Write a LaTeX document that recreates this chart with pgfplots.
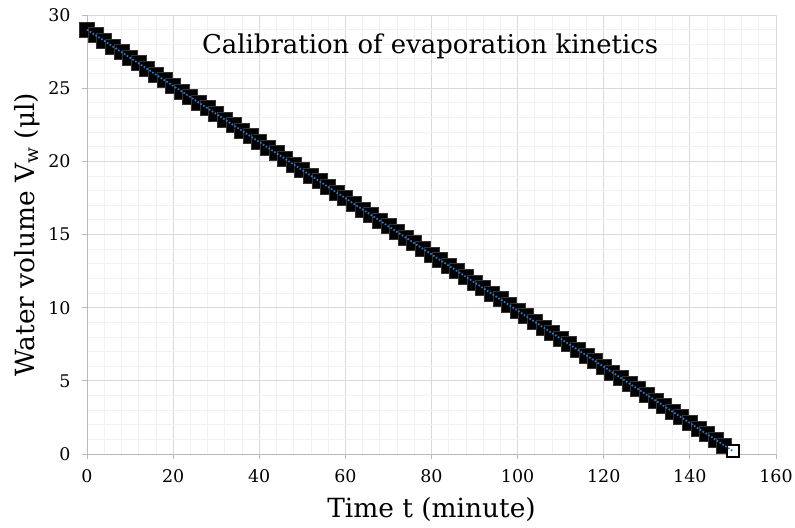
\documentclass[border=0pt]{standalone}
\usepackage{pgfplots}
\pgfplotsset{compat=1.18}
\usepackage{fontspec}
\setmainfont{DejaVu Serif}
\definecolor{trend}{RGB}{40,120,200}
\begin{document}
\begin{tikzpicture}
\begin{axis}[
    set layers,
    scale only axis,
    width=689bp, height=439bp,
    xmin=0, xmax=160, ymin=0, ymax=30,
    xtick={0,20,...,160}, ytick={0,5,...,30},
    minor x tick num=4, minor y tick num=4,
    grid=both,
    major grid style={draw=gray!30, line width=0.8pt},
    minor grid style={draw=gray!11, line width=0.8pt},
    axis lines=left,
    axis line style={-, draw=gray!55, line width=0.9pt},
    tick align=outside,
    major tick length=5bp, minor tick length=0pt,
    tick style={draw=gray!55, line width=0.9pt},
    /pgf/number format/assume math mode=true,
    ticklabel style={font=\fontsize{17.5}{20}\selectfont},
    xticklabel style={yshift=-7bp},
    yticklabel style={xshift=-8bp},
    xlabel={Time t (minute)},
    ylabel={Water volume V\textsubscript{w} (μl)},
    label style={font=\fontsize{26.5}{30}\selectfont},
    xlabel style={at={([yshift=-63bp]rel axis cs:0.5,0)}, anchor=base},
    ylabel style={at={([xshift=-60bp]rel axis cs:0,0.5)}, anchor=center},
    clip=false,
]
\addplot[only marks, mark=square*, mark size=7.5bp,
    mark options={fill=black, draw=gray!40!black, line width=0.8pt}]
  coordinates {
    (0,29.000) (2,28.616) (4,28.232) (6,27.848) (8,27.464) (10,27.080)
    (12,26.696) (14,26.312) (16,25.928) (18,25.544) (20,25.160) (22,24.776)
    (24,24.392) (26,24.008) (28,23.624) (30,23.240) (32,22.856) (34,22.472)
    (36,22.088) (38,21.704) (40,21.320) (42,20.936) (44,20.552) (46,20.168)
    (48,19.784) (50,19.400) (52,19.016) (54,18.632) (56,18.248) (58,17.864)
    (60,17.480) (62,17.096) (64,16.712) (66,16.328) (68,15.944) (70,15.560)
    (72,15.176) (74,14.792) (76,14.408) (78,14.024) (80,13.640) (82,13.256)
    (84,12.872) (86,12.488) (88,12.104) (90,11.720) (92,11.336) (94,10.952)
    (96,10.568) (98,10.184) (100,9.800) (102,9.416) (104,9.032) (106,8.648)
    (108,8.264) (110,7.880) (112,7.496) (114,7.112) (116,6.728) (118,6.344)
    (120,5.960) (122,5.576) (124,5.192) (126,4.808) (128,4.424) (130,4.040)
    (132,3.656) (134,3.272) (136,2.888) (138,2.504) (140,2.120) (142,1.736)
    (144,1.352) (146,0.968) (148,0.584)
  };
\addplot[only marks, mark=square*, mark size=6bp,
    mark options={fill=white, draw=black, line width=1.6pt}]
  coordinates {(150,0.200)};
\addplot[trend, line width=1.8pt, dash pattern=on 1.6pt off 1.8pt, on layer=axis foreground]
  coordinates {(0,29.000) (150,0.200)};
\node[font=\fontsize{26}{30}\selectfont, anchor=base] at (rel axis cs:0.498,0.9134)
  {Calibration of evaporation kinetics};
\coordinate (o) at (rel axis cs:0,0);
\end{axis}
\pgfresetboundingbox
\path[use as bounding box] (o) ++(-87bp,-74bp) rectangle ++(795bp,528bp);
\end{tikzpicture}
\end{document}
